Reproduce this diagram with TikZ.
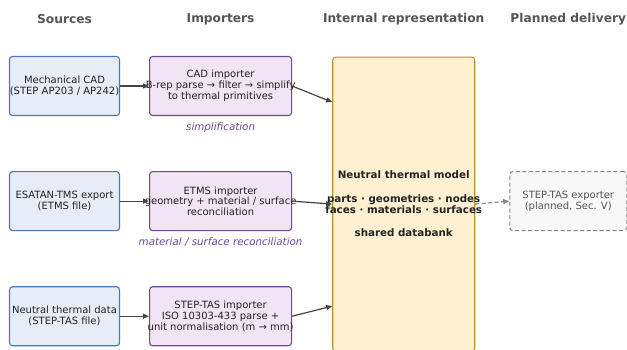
\documentclass[tikz,border=0pt]{standalone}
\usepackage{fontspec}
\setmainfont{DejaVu Sans}
\usetikzlibrary{arrows.meta, positioning}

\definecolor{srcfill}{HTML}{E8ECF6}
\definecolor{srcedge}{HTML}{4A78B8}
\definecolor{impfill}{HTML}{F1E4F4}
\definecolor{impedge}{HTML}{6C4A94}
\definecolor{corefill}{HTML}{FFF0D2}
\definecolor{coreedge}{HTML}{B8902C}
\definecolor{expfill}{HTML}{F8F8F8}
\definecolor{expedge}{HTML}{888888}
\definecolor{textdark}{HTML}{222222}
\definecolor{headgray}{HTML}{555555}
\definecolor{notepurple}{HTML}{6B4A94}
\definecolor{arrowgray}{HTML}{444444}

\newcommand{\boxfont}{\fontsize{10}{10.8}\selectfont}

\begin{document}
\begin{tikzpicture}[
        x=1pt, y=1pt,
        srcbox/.style={rectangle, draw=srcedge, fill=srcfill, rounded corners=3pt, line width=1.1pt,
            minimum width=110pt, minimum height=59pt, inner xsep=-8pt, align=center,
            font=\boxfont, text=textdark},
        impbox/.style={srcbox, draw=impedge, fill=impfill, minimum width=142pt},
        corebox/.style={srcbox, draw=coreedge, fill=corefill, minimum width=142pt, minimum height=294pt},
        corelabel/.style={align=center, font=\fontsize{10.3}{11.6}\selectfont\bfseries, text=textdark},
        expbox/.style={srcbox, draw=expedge, fill=expfill, dash pattern=on 4pt off 2.5pt, line width=1pt,
            minimum width=117pt, text=headgray},
        head/.style={font=\fontsize{12.2}{14}\selectfont\bfseries, text=headgray},
        note/.style={font=\fontsize{10.3}{12}\selectfont\itshape, text=notepurple},
        arrow/.style={-{Triangle[length=6pt, width=5pt]}, line width=1.2pt, draw=arrowgray},
        planned/.style={arrow, dash pattern=on 4pt off 2.5pt, draw=expedge},
        node distance=55pt and 29pt
    ]
        \clip (0,0) rectangle (627,-349);

        % Sources
        \node[srcbox] (cad) at (64.5,-86) {Mechanical CAD\\(STEP AP203 / AP242)};
        \node[srcbox, below=of cad] (etms) {ESATAN-TMS export\\(ETMS file)};
        \node[srcbox, below=of etms] (tasdata) {Neutral thermal data\\(STEP-TAS file)};

        % Importers
        \node[impbox, right=of cad] (cadimp) {CAD importer\\B-rep parse → filter → simplify\\to thermal primitives};
        \node[impbox, right=of etms] (etmsimp) {ETMS importer\\geometry + material / surface\\reconciliation};
        \node[impbox, right=of tasdata] (tasimp) {STEP-TAS importer\\ISO 10303-433 parse +\\unit normalisation (m → mm)};
        \node[note, below=3pt of cadimp] (simpnote) {simplification};
        \node[note, below=3pt of etmsimp] (recnote) {material / surface reconciliation};

        % Internal representation
        \node[corebox, right=40pt of etmsimp, yshift=-3pt] (core) {};
        \node[corelabel] (corelbl) at (core.center) {Neutral thermal model\\[11.6pt]parts · geometries · nodes\\faces · materials · surfaces\\[11.6pt]shared databank};

        % Planned delivery
        \node[expbox, right=34pt of core, yshift=3pt] (exporter) {STEP-TAS exporter\\(planned, Sec. V)};

        % Headings
        \coordinate (top) at (0,-19);
        \node[head] (hsrc) at (cad |- top) {Sources};
        \node[head] (himp) at (cadimp |- top) {Importers};
        \node[head] (hcore) at (core |- top) {Internal representation};
        \node[head] (hexp) at (exporter |- top) {Planned delivery};

        % Arrows
        \draw[arrow] (cad) -- (cadimp);
        \draw[arrow] (etms) -- (etmsimp);
        \draw[arrow] (tasdata) -- (tasimp);
        \draw[arrow] (cadimp.east) -- ([yshift=102pt]core.west);
        \draw[arrow] (etmsimp.east) -- (core.west);
        \draw[arrow] (tasimp.east) -- ([yshift=-102pt]core.west);
        \draw[planned] (core.east) -- (exporter.west);
    \end{tikzpicture}
\end{document}
